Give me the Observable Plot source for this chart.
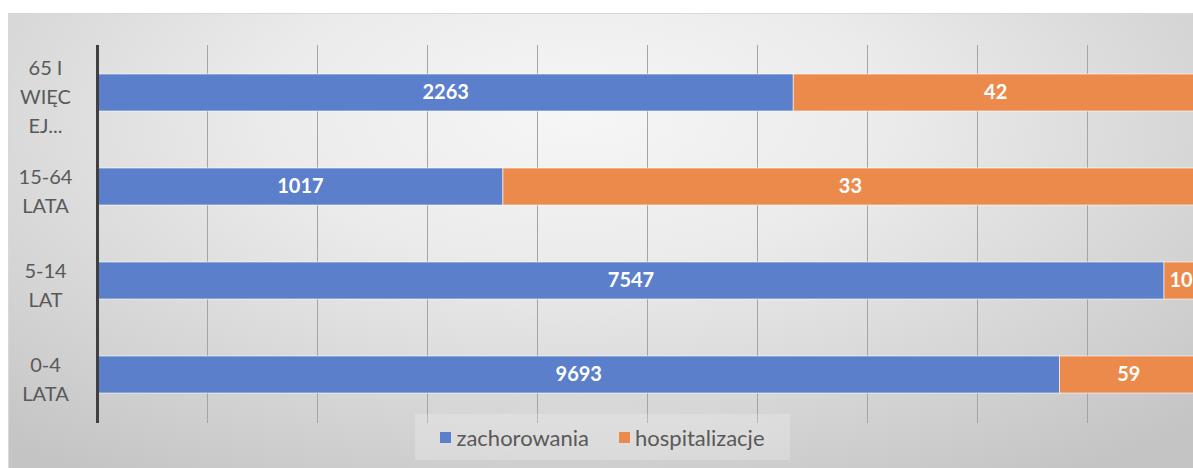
<!DOCTYPE html>
<html>
<head>
<meta charset="utf-8">
<script src="https://cdn.jsdelivr.net/npm/d3@7"></script>
<script src="https://cdn.jsdelivr.net/npm/@observablehq/plot@0.6"></script>
<style>
  html, body { margin: 0; padding: 0; background: #fff; }
  #wrap { position: relative; width: 1193px; height: 468px; overflow: hidden; background: #fff; }
  #bg { position: absolute; left: 8px; top: 13px; right: 0; bottom: 0;
        background: radial-gradient(ellipse 75% 95% at 48% 22%, #f6f6f6 0%, #ebebeb 35%, #d9d9d9 65%, #c4c4c4 100%);
        border-top: 1px solid #d8d8d8; border-left: 1px solid #d8d8d8; }
  #chart { position: absolute; left: 0; top: 0; }
  #legend { position: absolute; left: 415px; top: 414px; width: 375px; height: 46px;
            background: rgba(255,255,255,0.22); display: flex; align-items: center; justify-content: center;
            font-family: Lato, "Open Sans", sans-serif; font-size: 22px; color: #595959; }
  .item { display: flex; align-items: center; }
  .sw { width: 11px; height: 11px; margin-right: 5px; }
</style>
</head>
<body>
<div id="wrap">
  <div id="bg"></div>
  <div id="chart"></div>
  <div id="legend"></div>
</div>
<script>
// categories, top to bottom
const categories = ["65 I\nWIĘC\nEJ...", "15-64\nLATA", "5-14\nLAT", "0-4\nLATA"];
const seriesNames = ["zachorowania", "hospitalizacje"];
const seriesColors = ["#5B7FCB", "#EC8A4B"];
// plotted share of the 100% bar
const zachorowaniaShare = [63.3, 36.9, 97.0, 87.5];
const hospitalizacjeShare = [36.7, 63.1, 3.0, 12.5];
// data labels shown on the bars
const zachorowaniaLabels = ["2263", "1017", "7547", "9693"];
const hospitalizacjeLabels = ["42", "33", "10", "59"];
const xTicks = [0, 10, 20, 30, 40, 50, 60, 70, 80, 90, 100];

const data = [];
categories.forEach((c, i) => {
  data.push({cat: c, series: seriesNames[0], share: zachorowaniaShare[i], label: zachorowaniaLabels[i]});
  data.push({cat: c, series: seriesNames[1], share: hospitalizacjeShare[i], label: hospitalizacjeLabels[i]});
});

const font = "Lato, 'Open Sans', sans-serif";
const plot = Plot.plot({
  width: 1193,
  height: 468,
  marginTop: 45,
  marginBottom: 45,
  marginLeft: 97,
  marginRight: 0,
  style: {background: "transparent", overflow: "hidden"},
  x: {domain: [0, 100], range: [97, 1197], axis: null},
  y: {domain: categories, paddingInner: 0.605, paddingOuter: 0.3025, axis: null},
  color: {domain: seriesNames, range: seriesColors},
  marks: [
    Plot.ruleX(xTicks.slice(1), {stroke: "#a4a4a4", strokeWidth: 1}),
    Plot.barX(data, Plot.stackX({x: "share", y: "cat", fill: "series", z: "series",
      stroke: "#ffffff", strokeOpacity: 0.6, strokeWidth: 1})),
    Plot.text(data, Plot.stackX({x: "share", y: "cat", z: "series", text: "label",
      fill: "white", fontWeight: "bold", fontSize: 20, fontFamily: font})),
    Plot.ruleX([0], {stroke: "#404040", strokeWidth: 3}),
    Plot.axisY({label: null, tickSize: 0, tickPadding: 52, textAnchor: "middle", fontSize: 20, dy: 2,
      fontFamily: font, fill: "#595959", lineHeight: 1.45})
  ]
});
document.getElementById("chart").appendChild(plot);

const legend = document.getElementById("legend");
seriesNames.forEach((s, i) => {
  const item = document.createElement("div");
  item.className = "item";
  if (i > 0) item.style.marginLeft = "30px";
  const sw = document.createElement("div");
  sw.className = "sw";
  sw.style.background = seriesColors[i];
  const t = document.createElement("span");
  t.textContent = s;
  item.appendChild(sw);
  item.appendChild(t);
  legend.appendChild(item);
});
</script>
</body>
</html>
